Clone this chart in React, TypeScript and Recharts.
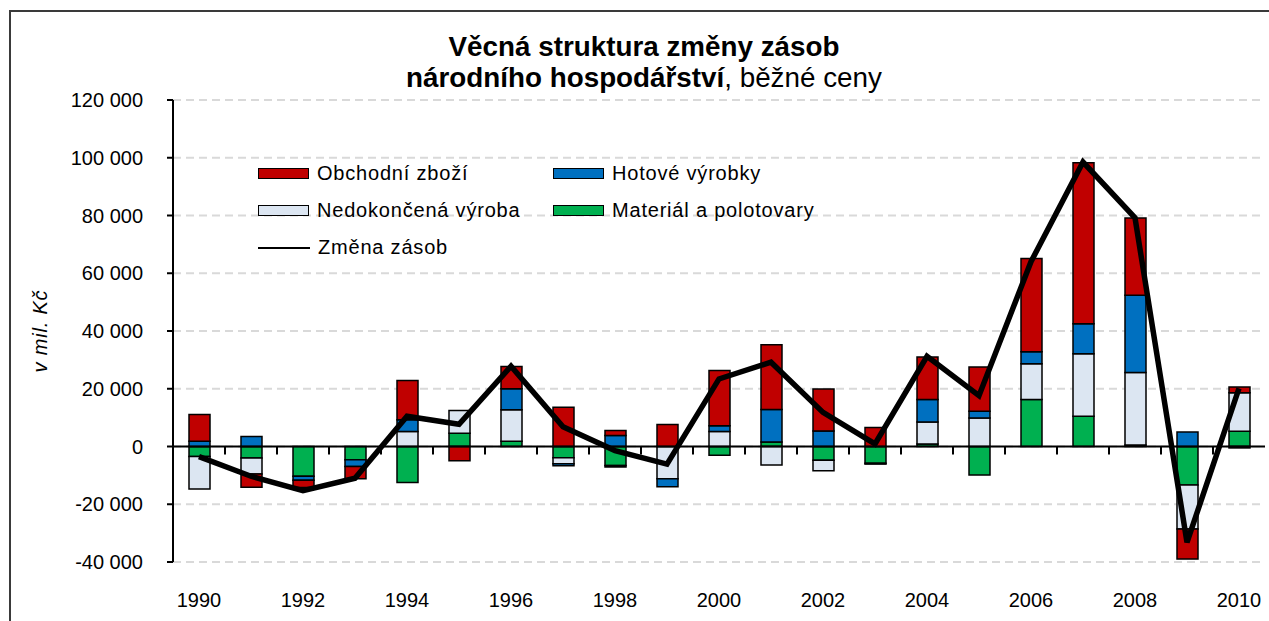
import React from 'react';
import { ComposedChart, Bar, Line, XAxis, YAxis, CartesianGrid, ReferenceLine, Legend } from 'recharts';

const years = ['1990','1991','1992','1993','1994','1995','1996','1997','1998','1999','2000','2001','2002','2003','2004','2005','2006','2007','2008','2009','2010'];

const obchodniZbozi = [9300,-4600,-2500,-4300,13600,-4900,7700,13600,1700,7600,19100,22400,14500,6600,14700,15300,32300,55800,26700,-10400,2000];
const hotoveVyrobky = [1800,3500,-1400,-2300,4100,0,7300,-700,3800,-2700,2000,11200,5400,-300,7800,2300,4100,10400,26800,5000,-500];
const nedokoncenaVyroba = [-11200,-5500,0,0,5200,7900,10900,-2100,-500,-11200,5200,-6400,-3600,0,7600,9900,12400,21600,25100,-15300,13300];
const materialPolotovary = [-3500,-4000,-10300,-4600,-12500,4600,1800,-3900,-6600,0,-3000,1600,-4800,-5800,900,-9900,16300,10500,500,-13300,5300];
const zmenaZasob = [-3500,-10300,-15300,-11000,10500,7700,27800,6800,-1400,-6100,23400,29200,11800,900,31200,17600,64000,98500,79200,-33200,20100];

const yTicks = [-40000,-20000,0,20000,40000,60000,80000,100000,120000];

const seriesNames: Record<string,string> = {
  obchodni: 'Obchodní zboží',
  hotove: 'Hotové výrobky',
  nedokoncena: 'Nedokončená výroba',
  material: 'Materiál a polotovary',
  zmena: 'Změna zásob',
};
const seriesColors: Record<string,string> = {
  obchodni: '#C00000',
  hotove: '#0070C0',
  nedokoncena: '#DCE6F2',
  material: '#00B050',
  zmena: '#000000',
};
const legendOrder = ['obchodni','hotove','nedokoncena','material','zmena'];

const data = years.map((y, i) => ({
  year: y,
  obchodni: obchodniZbozi[i],
  hotove: hotoveVyrobky[i],
  nedokoncena: nedokoncenaVyroba[i],
  material: materialPolotovary[i],
  zmena: zmenaZasob[i],
}));

const FONT = '"Liberation Sans", Arial, Helvetica, sans-serif';

const fmt = (v: number) => {
  const s = Math.abs(v).toString().replace(/\B(?=(\d{3})+(?!\d))/g, '\u00a0');
  return (v < 0 ? '-' : '') + s;
};

function ZeroTicks(props: any) {
  const vb = props.viewBox;
  if (!vb) return null;
  const n = years.length;
  const step = vb.width / n;
  const ticks: React.ReactNode[] = [];
  for (let i = 1; i < n; i++) {
    const x = vb.x + i * step;
    ticks.push(<line key={i} x1={x} x2={x} y1={vb.y} y2={vb.y + 8} stroke="#000" strokeWidth={2} />);
  }
  return <g>{ticks}</g>;
}

function LegendContent(props: any) {
  const payload: any[] = props.payload || [];
  const items = legendOrder.map((k) => payload.find((p) => p.dataKey === k) || { dataKey: k, value: seriesNames[k] });
  return (
    <div style={{ display: 'grid', gridTemplateColumns: '295px 320px', gridAutoRows: '37px', fontFamily: FONT, fontSize: 20, letterSpacing: 0.8, color: '#000' }}>
      {items.map((it: any) => {
        const k = it.dataKey as string;
        return (
          <div key={k} style={{ display: 'flex', alignItems: 'center', height: 37, whiteSpace: 'nowrap' }}>
            {k === 'zmena' ? (
              <div style={{ width: 52, height: 2, background: '#000', marginRight: 8 }} />
            ) : (
              <div style={{ width: 49, height: 9, background: seriesColors[k], border: '1.5px solid #000', marginRight: 8 }} />
            )}
            <span>{seriesNames[k]}</span>
          </div>
        );
      })}
    </div>
  );
}

function YLabel(props: any) {
  const vb = props.viewBox || { y: 100, height: 462 };
  const cx = 40;
  const cy = vb.y + vb.height / 2;
  return (
    <text x={cx} y={cy} transform={`rotate(-90 ${cx} ${cy})`} textAnchor="middle" dominantBaseline="central"
      style={{ fontFamily: FONT, fontSize: 20, fontStyle: 'italic', letterSpacing: 0.8 }} fill="#000">
      v mil. Kč
    </text>
  );
}

export default function App() {
  return (
    <div style={{ position: 'relative', width: 1269, height: 621, overflow: 'hidden', background: '#fff' }}>
      <style>{`html,body{margin:0;padding:0;overflow:hidden;background:#fff;}`}</style>
      <div style={{ position: 'absolute', left: 9, top: 10, width: 1400, height: 800, borderTop: '2px solid #3a3a3a', borderLeft: '2px solid #3a3a3a' }} />
      <div style={{ position: 'absolute', left: 0, top: 31, width: 1288, textAlign: 'center', fontFamily: FONT, fontSize: 27.8, lineHeight: '31px', color: '#000', zIndex: 2 }}>
        <div style={{ fontWeight: 'bold' }}>Věcná struktura změny zásob</div>
        <div><span style={{ fontWeight: 'bold' }}>národního hospodářství</span>, běžné ceny</div>
      </div>
      <div style={{ position: 'absolute', left: 0, top: 0 }}>
        <ComposedChart width={1269} height={621} data={data} stackOffset="sign"
          margin={{ top: 100, right: 4, bottom: 0, left: 0 }} barSize={21}>
          <CartesianGrid vertical={false} stroke="#d9d9d9" strokeDasharray="8 5" strokeWidth={2} />
          <XAxis dataKey="year" interval={1} axisLine={false} tickLine={false} tickSize={0} tickMargin={31} height={59}
            tick={{ fill: '#000', fontSize: 20, fontFamily: FONT }} />
          <YAxis width={173} domain={[-40000, 120000]} ticks={yTicks} interval={0} allowDataOverflow
            axisLine={{ stroke: '#000', strokeWidth: 2 }} tickLine={{ stroke: '#000', strokeWidth: 2 }} tickSize={6} tickMargin={24}
            tickFormatter={fmt} tick={{ fill: '#000', fontSize: 20, fontFamily: FONT }} label={<YLabel />} />
          <Legend layout="vertical" verticalAlign="middle" align="center" content={<LegendContent />}
            wrapperStyle={{ left: 258, top: 155, width: 620, height: 111 }} />
          <Bar dataKey="material" name={seriesNames.material} stackId="a" fill={seriesColors.material} stroke="#000" strokeWidth={1.5} isAnimationActive={false} />
          <Bar dataKey="nedokoncena" name={seriesNames.nedokoncena} stackId="a" fill={seriesColors.nedokoncena} stroke="#000" strokeWidth={1.5} isAnimationActive={false} />
          <Bar dataKey="hotove" name={seriesNames.hotove} stackId="a" fill={seriesColors.hotove} stroke="#000" strokeWidth={1.5} isAnimationActive={false} />
          <Bar dataKey="obchodni" name={seriesNames.obchodni} stackId="a" fill={seriesColors.obchodni} stroke="#000" strokeWidth={1.5} isAnimationActive={false} />
          <ReferenceLine y={0} stroke="#000" strokeWidth={2} label={(p: any) => <ZeroTicks {...p} />} />
          <Line dataKey="zmena" name={seriesNames.zmena} type="linear" stroke="#000" strokeWidth={5.5} dot={false} activeDot={false} isAnimationActive={false} />
        </ComposedChart>
      </div>
    </div>
  );
}
